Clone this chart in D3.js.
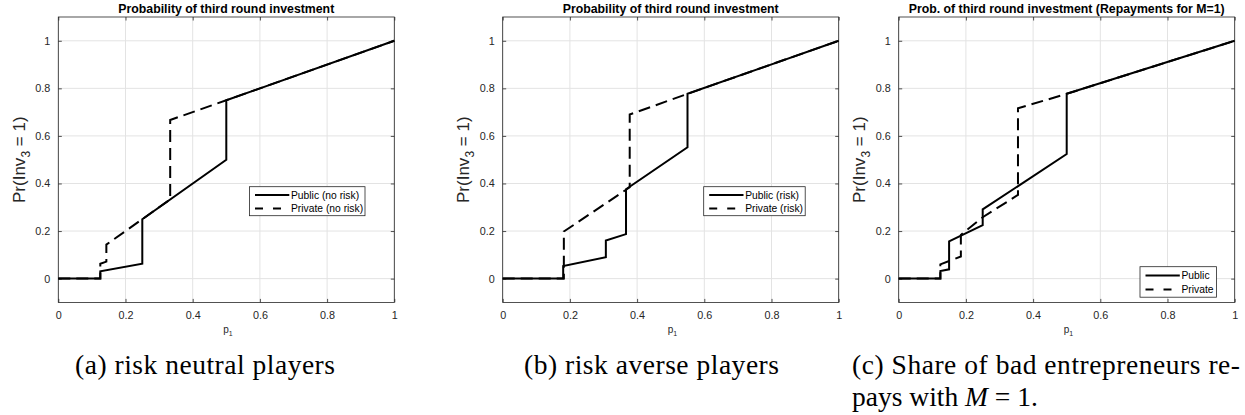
<!DOCTYPE html>
<html>
<head>
<meta charset="utf-8">
<script src="https://cdn.jsdelivr.net/npm/d3@7"></script>
<style>
  html, body { margin: 0; padding: 0; background: #ffffff; }
  svg { display: block; }
</style>
</head>
<body>
<svg id="chart" width="1245" height="415"></svg>
<script>
// ---------- data ----------
const xTickValues = [0, 0.2, 0.4, 0.6, 0.8, 1];
const yTickValues = [0, 0.2, 0.4, 0.6, 0.8, 1];
const xDomain = [0, 1];
const yDomain = [-0.1, 1.1];

const panelTitles = [
  "Probability of third round investment",
  "Probability of third round investment",
  "Prob. of third round investment (Repayments for M=1)"
];
const legendLabelsA = ["Public (no risk)", "Private (no risk)"];
const legendLabelsB = ["Public (risk)", "Private (risk)"];
const legendLabelsC = ["Public", "Private"];
const captionA = ["(a) risk neutral players"];
const captionB = ["(b) risk averse players"];
const captionC = ["(c) Share of bad entrepreneurs re-", "pays with "];

// (p1, Pr) pairs
const publicA = [[0,0],[0.125,0],[0.125,0.031],[0.25,0.0625],[0.25,0.25],[0.5,0.5],[0.5,0.75],[1,1]];
const privateA = [[0,0],[0.125,0],[0.125,0.0625],[0.143,0.0714],[0.143,0.143],[0.333,0.333],[0.333,0.667],[0.5,0.75],[1,1]];

const publicB = [[0,0],[0.18,0],[0.18,0.053],[0.307,0.09],[0.307,0.16],[0.367,0.187],[0.367,0.376],[0.55,0.552],[0.55,0.777],[1,1]];
const privateB = [[0,0],[0.182,0],[0.182,0.198],[0.378,0.384],[0.378,0.69],[0.55,0.777],[1,1]];

const publicC = [[0,0],[0.124,0],[0.124,0.032],[0.15,0.039],[0.15,0.157],[0.25,0.225],[0.25,0.291],[0.5,0.524],[0.5,0.777],[1,1]];
const privateC = [[0,0],[0.124,0],[0.124,0.06],[0.185,0.093],[0.185,0.184],[0.25,0.258],[0.355,0.352],[0.355,0.716],[0.5,0.777],[1,1]];

// ---------- layout ----------
const svg = d3.select("#chart");
const AX = "#262626";
const FONT = "'Liberation Sans', Arial, Helvetica, sans-serif";
const SERIF = "'Liberation Serif', 'Times New Roman', serif";

const panels = [
  { left: 58.3, title: panelTitles[0], pub: publicA, priv: privateA, legend: legendLabelsA,
    legBox: { x: 249.5, y: 186.7, w: 115.5, h: 29 } },
  { left: 502.7, title: panelTitles[1], pub: publicB, priv: privateB, legend: legendLabelsB,
    legBox: { x: 703.7, y: 186.7, w: 101.5, h: 29 } },
  { left: 898.7, title: panelTitles[2], pub: publicC, priv: privateC, legend: legendLabelsC,
    legBox: { x: 1140, y: 266.7, w: 76.5, h: 30.5 } }
];
const plotW = 336, plotTop = 17, plotBottom = 302.4;

panels.forEach(p => {
  const g = svg.append("g");
  const x = d3.scaleLinear().domain(xDomain).range([p.left, p.left + plotW]);
  const y = d3.scaleLinear().domain(yDomain).range([plotBottom, plotTop]);

  // grid
  g.append("g").selectAll("line.gx").data(xTickValues).join("line")
    .attr("x1", d => x(d)).attr("x2", d => x(d))
    .attr("y1", plotTop).attr("y2", plotBottom)
    .attr("stroke", "#e3e3e3").attr("stroke-width", 1);
  g.append("g").selectAll("line.gy").data(yTickValues).join("line")
    .attr("y1", d => y(d)).attr("y2", d => y(d))
    .attr("x1", p.left).attr("x2", p.left + plotW)
    .attr("stroke", "#e3e3e3").attr("stroke-width", 1);

  // axes (bottom/left with labels, top/right ticks only), inward ticks
  const xAxis = d3.axisBottom(x).tickValues(xTickValues).tickSize(-3.5).tickPadding(9)
    .tickFormat(d3.format("~g"));
  const yAxis = d3.axisLeft(y).tickValues(yTickValues).tickSize(-3.5).tickPadding(8)
    .tickFormat(d3.format("~g"));
  const xTop = d3.axisTop(x).tickValues(xTickValues).tickSize(-3.5).tickFormat("");
  const yRight = d3.axisRight(y).tickValues(yTickValues).tickSize(-3.5).tickFormat("");

  const styleAxis = sel => {
    sel.selectAll("path").remove();
    sel.selectAll("line").attr("stroke", AX).attr("stroke-width", 0.8);
    sel.selectAll("text").attr("fill", AX).style("font-family", FONT).style("font-size", "10.8px");
  };
  g.append("g").attr("transform", `translate(0,${plotBottom})`).call(xAxis).call(styleAxis);
  g.append("g").attr("transform", `translate(${p.left},0)`).call(yAxis).call(styleAxis);
  g.append("g").attr("transform", `translate(0,${plotTop})`).call(xTop).call(styleAxis);
  g.append("g").attr("transform", `translate(${p.left + plotW},0)`).call(yRight).call(styleAxis);

  // box
  g.append("rect").attr("x", p.left).attr("y", plotTop)
    .attr("width", plotW).attr("height", plotBottom - plotTop)
    .attr("fill", "none").attr("stroke", AX).attr("stroke-width", 0.8);

  // lines
  const line = d3.line().x(d => x(d[0])).y(d => y(d[1]));
  g.append("path").datum(p.pub).attr("d", line)
    .attr("fill", "none").attr("stroke", "#000").attr("stroke-width", 2)
    .attr("stroke-linejoin", "miter");
  g.append("path").datum(p.priv).attr("d", line)
    .attr("fill", "none").attr("stroke", "#000").attr("stroke-width", 2)
    .attr("stroke-dasharray", "12,6");

  // title
  g.append("text").attr("x", p.left + plotW / 2).attr("y", 13)
    .attr("text-anchor", "middle").style("font-family", FONT)
    .style("font-weight", "bold").style("font-size", "12.3px").attr("fill", "#000")
    .text(p.title);

  // y label
  const yl = g.append("text")
    .attr("transform", `translate(${p.left - 33.5},${(plotTop + plotBottom) / 2}) rotate(-90)`)
    .attr("text-anchor", "middle").style("font-family", FONT).style("font-size", "17px")
    .attr("fill", AX);
  yl.append("tspan").text("Pr(Inv");
  yl.append("tspan").attr("dy", 5).style("font-size", "12px").text("3");
  yl.append("tspan").attr("dy", -5).text(" = 1)");

  // x label
  const xl = g.append("text").attr("x", p.left + plotW / 2 - 3).attr("y", 333)
    .style("font-family", FONT).style("font-size", "10px").attr("fill", AX);
  xl.append("tspan").text("p");
  xl.append("tspan").attr("dy", 2.5).style("font-size", "7px").text("1");

  // legend
  const lb = p.legBox;
  const lg = g.append("g");
  lg.append("rect").attr("x", lb.x).attr("y", lb.y).attr("width", lb.w).attr("height", lb.h)
    .attr("fill", "#fff").attr("stroke", AX).attr("stroke-width", 0.8);
  const rows = [lb.y + lb.h * 0.29, lb.y + lb.h * 0.75];
  p.legend.forEach((lab, i) => {
    lg.append("line").attr("x1", lb.x + 5.5).attr("x2", lb.x + 39.8)
      .attr("y1", rows[i]).attr("y2", rows[i])
      .attr("stroke", "#000").attr("stroke-width", 2)
      .attr("stroke-dasharray", i === 1 ? "8,10" : null);
    lg.append("text").attr("x", lb.x + 41.5).attr("y", rows[i] + 3.6)
      .style("font-family", FONT).style("font-size", "10.3px").attr("fill", "#000").text(lab);
  });
});

// captions
const capStyle = sel => sel.style("font-family", SERIF).style("font-size", "27.5px").attr("fill", "#000");
svg.append("text").attr("x", 75).attr("y", 374).call(capStyle)
  .attr("textLength", 260).attr("lengthAdjust", "spacing").text(captionA[0]);
svg.append("text").attr("x", 524).attr("y", 374).call(capStyle)
  .attr("textLength", 255).attr("lengthAdjust", "spacing").text(captionB[0]);
svg.append("text").attr("x", 852).attr("y", 374).call(capStyle)
  .attr("textLength", 388).attr("lengthAdjust", "spacing").text(captionC[0]);
const c2 = svg.append("text").attr("x", 852).attr("y", 406).call(capStyle);
c2.append("tspan").text(captionC[1]);
c2.append("tspan").style("font-style", "italic").text("M");
c2.append("tspan").text(" = 1.");
</script>
</body>
</html>
